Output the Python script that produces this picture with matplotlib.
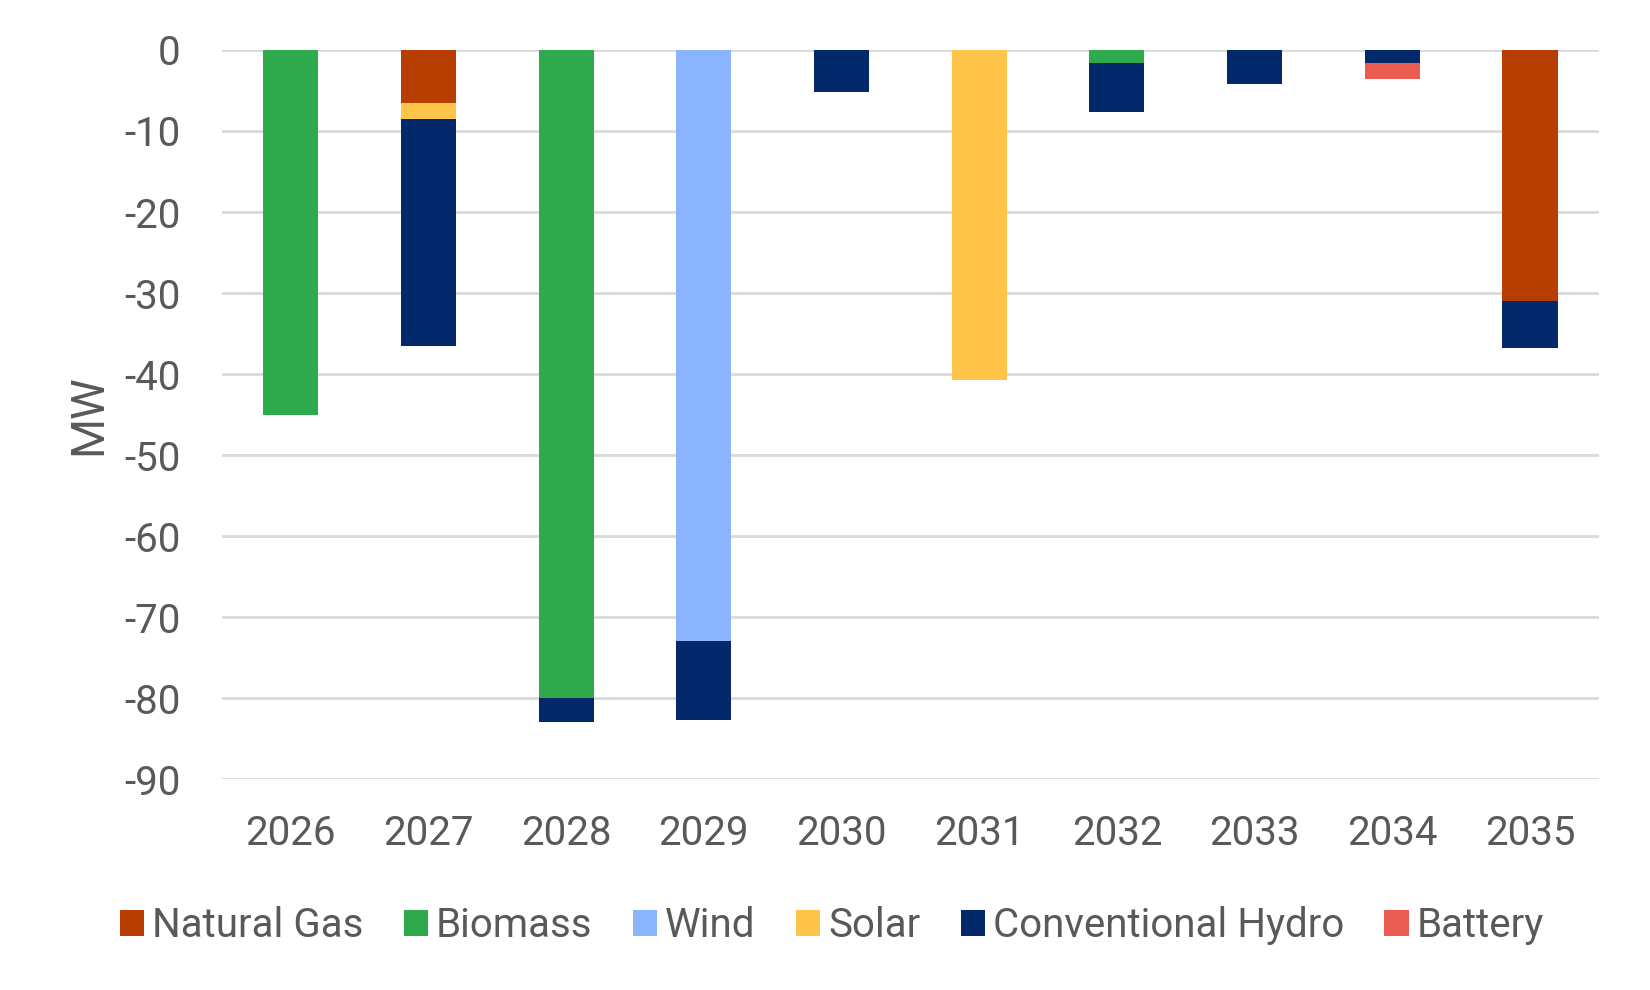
import matplotlib.pyplot as plt
import numpy as np

plt.rcParams['font.family'] = ['Roboto', 'DejaVu Sans']
plt.rcParams['axes.unicode_minus'] = False

years = ['2026', '2027', '2028', '2029', '2030', '2031', '2032', '2033', '2034', '2035']
natural_gas = [0, -6.5, 0, 0, 0, 0, 0, 0, 0, -31.0]
biomass = [-45.0, 0, -80.0, 0, 0, 0, -1.6, 0, 0, 0]
wind = [0, 0, 0, -73.0, 0, 0, 0, 0, 0, 0]
solar = [0, -2.0, 0, 0, 0, -40.7, 0, 0, 0, 0]
hydro = [0, -28.0, -3.0, -9.7, -5.2, 0, -6.0, -4.2, -1.6, -5.8]
battery = [0, 0, 0, 0, 0, 0, 0, 0, -2.0, 0]

series = [
    ('Natural Gas', natural_gas, '#B83D00'),
    ('Biomass', biomass, '#2EAA4C'),
    ('Wind', wind, '#8AB4FF'),
    ('Solar', solar, '#FFC54A'),
    ('Conventional Hydro', hydro, '#03296B'),
    ('Battery', battery, '#E95C4F'),
]

fig = plt.figure(figsize=(16.5, 9.9), dpi=100)
ax = fig.add_axes([0.1345, 0.2131, 0.8345, 0.7364])

x = np.arange(len(years))
bottom = np.zeros(len(years))
for name, vals, col in series:
    vals = np.array(vals)
    ax.bar(x, vals, 0.4, bottom=bottom, color=col, label=name, zorder=3)
    bottom += vals

ax.set_ylim(-90, 0)
ax.set_xlim(-0.5, len(years) - 0.5)
ax.set_yticks(np.arange(-90, 1, 10))
ax.set_xticks(x)
ax.set_xticklabels(years)
ax.yaxis.grid(True, color='#D9D9D9', linewidth=2, zorder=0)
for s in ax.spines.values():
    s.set_visible(False)
ax.tick_params(length=0, labelsize=29, colors='#595959')
ax.tick_params(axis='y', pad=30)
ax.tick_params(axis='x', pad=25)
ax.set_ylabel('MW', fontsize=33, color='#595959', labelpad=10)

ax.legend(loc='upper center', bbox_to_anchor=(0.443, -0.125), ncol=6, frameon=False,
          fontsize=29, labelcolor='#595959', handlelength=0.6, handleheight=0.6,
          handletextpad=0.2, columnspacing=1.0)

fig.savefig('out.png')
